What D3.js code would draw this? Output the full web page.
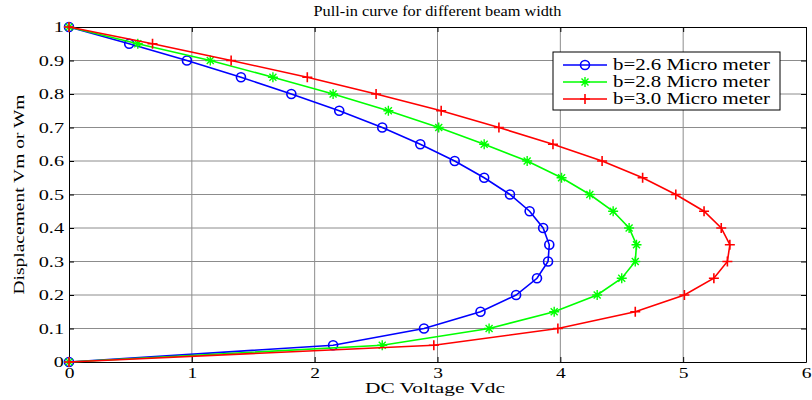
<!DOCTYPE html>
<html>
<head>
<meta charset="utf-8">
<script src="https://cdn.jsdelivr.net/npm/d3@7"></script>
<style>
  body { margin: 0; background: #fff; }
  svg text { font-family: "Liberation Serif", "DejaVu Serif", serif; fill: #000; }
</style>
</head>
<body>
<div id="chart"></div>
<script>
// displacement levels (y) shared by all three curves
var displacement = [0, 0.05, 0.1, 0.15, 0.2, 0.25, 0.3, 0.35, 0.4, 0.45, 0.5,
                    0.55, 0.6, 0.65, 0.7, 0.75, 0.8, 0.85, 0.9, 0.95, 1];

// DC voltage for each displacement level
var voltB26 = [0, 2.15, 2.89, 3.35, 3.64, 3.81, 3.90, 3.91, 3.86, 3.75, 3.59,
               3.38, 3.14, 2.86, 2.55, 2.20, 1.81, 1.40, 0.96, 0.49, 0];
var voltB28 = [0, 2.55, 3.42, 3.95, 4.30, 4.50, 4.61, 4.62, 4.56, 4.43, 4.24,
               4.01, 3.73, 3.38, 3.01, 2.60, 2.15, 1.66, 1.15, 0.56, 0];
var voltB30 = [0, 2.97, 3.98, 4.61, 5.01, 5.25, 5.36, 5.38, 5.31, 5.17, 4.94,
               4.67, 4.34, 3.94, 3.50, 3.03, 2.50, 1.94, 1.32, 0.68, 0];

var seriesNames = ["b=2.6 Micro meter", "b=2.8 Micro meter", "b=3.0 Micro meter"];
var xTicks = [0, 1, 2, 3, 4, 5, 6];
var yTicks = [0, 0.1, 0.2, 0.3, 0.4, 0.5, 0.6, 0.7, 0.8, 0.9, 1];

var width = 812, height = 400;
var margin = {left: 69, right: 6, top: 27, bottom: 38};

var svg = d3.select("#chart").append("svg")
    .attr("width", width)
    .attr("height", height);

var x = d3.scaleLinear().domain([0, 6]).range([margin.left, width - margin.right]);
var y = d3.scaleLinear().domain([0, 1]).range([height - margin.bottom, margin.top]);

// the reference text is stretched sideways, so widen glyphs a bit
function stretch(sel, k) {
    sel.each(function() {
        var w = this.getComputedTextLength();
        d3.select(this).attr("textLength", w * k).attr("lengthAdjust", "spacingAndGlyphs");
    });
}

// grid
svg.append("g").selectAll("line").data(xTicks.slice(1, -1)).enter().append("line")
    .attr("x1", function(d) { return x(d); }).attr("x2", function(d) { return x(d); })
    .attr("y1", y(0)).attr("y2", y(1))
    .attr("stroke", "#8c8c8c").attr("stroke-width", 1);
svg.append("g").selectAll("line").data(yTicks.slice(1, -1)).enter().append("line")
    .attr("y1", function(d) { return y(d); }).attr("y2", function(d) { return y(d); })
    .attr("x1", x(0)).attr("x2", x(6))
    .attr("stroke", "#8c8c8c").attr("stroke-width", 1);

// axes (ticks point inward like matlab)
var fmtY = function(d) { return d === 0 || d === 1 ? String(d) : d3.format(".1f")(d); };
svg.append("g")
    .attr("transform", "translate(0," + y(0) + ")")
    .call(d3.axisBottom(x).tickValues(xTicks).tickFormat(d3.format("d"))
        .tickSizeInner(-5).tickSizeOuter(0).tickPadding(5))
    .call(function(g) {
        g.attr("font-family", null);
        g.select(".domain").attr("stroke", "#000");
        g.selectAll("text").attr("font-size", 15).call(stretch, 1.3);
    });
svg.append("g")
    .attr("transform", "translate(" + x(0) + ",0)")
    .call(d3.axisLeft(y).tickValues(yTicks).tickFormat(fmtY)
        .tickSizeInner(-5).tickSizeOuter(0).tickPadding(5))
    .call(function(g) {
        g.attr("font-family", null);
        g.select(".domain").attr("stroke", "#000");
        g.selectAll("text").attr("font-size", 15).call(stretch, 1.35);
    });
svg.append("g")
    .attr("transform", "translate(0," + y(1) + ")")
    .call(d3.axisTop(x).tickValues(xTicks).tickSizeInner(-5).tickSizeOuter(0).tickFormat(""));
svg.append("g")
    .attr("transform", "translate(" + x(6) + ",0)")
    .call(d3.axisRight(y).tickValues(yTicks).tickSizeInner(-5).tickSizeOuter(0).tickFormat(""));

// series
var colors = ["#0000ff", "#00ff00", "#ff0000"];
var markers = ["circle", "star", "plus"];
var allVolts = [voltB26, voltB28, voltB30];

var line = d3.line()
    .x(function(d) { return x(d[0]); })
    .y(function(d) { return y(d[1]); });

function drawMarker(g, type, color) {
    if (type === "circle") {
        g.append("circle").attr("r", 4.5).attr("fill", "none")
            .attr("stroke", color).attr("stroke-width", 1.6);
    } else if (type === "plus") {
        g.append("path").attr("d", "M-5,0H5M0,-5V5")
            .attr("stroke", color).attr("stroke-width", 1.6);
    } else {
        g.append("path").attr("d", "M-5,0H5M0,-5V5M-3.5,-3.5L3.5,3.5M-3.5,3.5L3.5,-3.5")
            .attr("stroke", color).attr("stroke-width", 1.4);
    }
}

allVolts.forEach(function(v, i) {
    var pts = v.map(function(vx, k) { return [vx, displacement[k]]; });
    svg.append("path").datum(pts)
        .attr("d", line)
        .attr("fill", "none")
        .attr("stroke", colors[i])
        .attr("stroke-width", 1.6);
    svg.append("g").selectAll("g").data(pts).enter().append("g")
        .attr("transform", function(d) { return "translate(" + x(d[0]) + "," + y(d[1]) + ")"; })
        .each(function() { drawMarker(d3.select(this), markers[i], colors[i]); });
});

// legend
var lg = svg.append("g").attr("transform", "translate(553,52)");
lg.append("rect").attr("width", 227).attr("height", 58)
    .attr("fill", "#fff").attr("stroke", "#000").attr("stroke-width", 1);
seriesNames.forEach(function(name, i) {
    var cy = 13 + i * 17;
    lg.append("line").attr("x1", 10).attr("x2", 54).attr("y1", cy).attr("y2", cy)
        .attr("stroke", colors[i]).attr("stroke-width", 1.6);
    drawMarker(lg.append("g").attr("transform", "translate(32," + cy + ")"), markers[i], colors[i]);
    lg.append("text").attr("x", 60).attr("y", cy + 5)
        .attr("font-size", 16).attr("textLength", 157).attr("lengthAdjust", "spacingAndGlyphs")
        .text(name);
});

// titles
svg.append("text").attr("x", (x(0) + x(6)) / 2).attr("y", 16)
    .attr("text-anchor", "middle").attr("font-size", 14)
    .attr("textLength", 248).attr("lengthAdjust", "spacingAndGlyphs")
    .text("Pull-in curve for different beam width");
svg.append("text").attr("x", 435).attr("y", 393)
    .attr("text-anchor", "middle").attr("font-size", 15)
    .attr("textLength", 140).attr("lengthAdjust", "spacingAndGlyphs")
    .text("DC Voltage Vdc");
svg.append("text")
    .attr("transform", "translate(24," + (y(0) + y(1)) / 2 + ") rotate(-90)")
    .attr("text-anchor", "middle").attr("font-size", 15)
    .attr("textLength", 200).attr("lengthAdjust", "spacingAndGlyphs")
    .text("Displacement Vm or Wm");
</script>
</body>
</html>
